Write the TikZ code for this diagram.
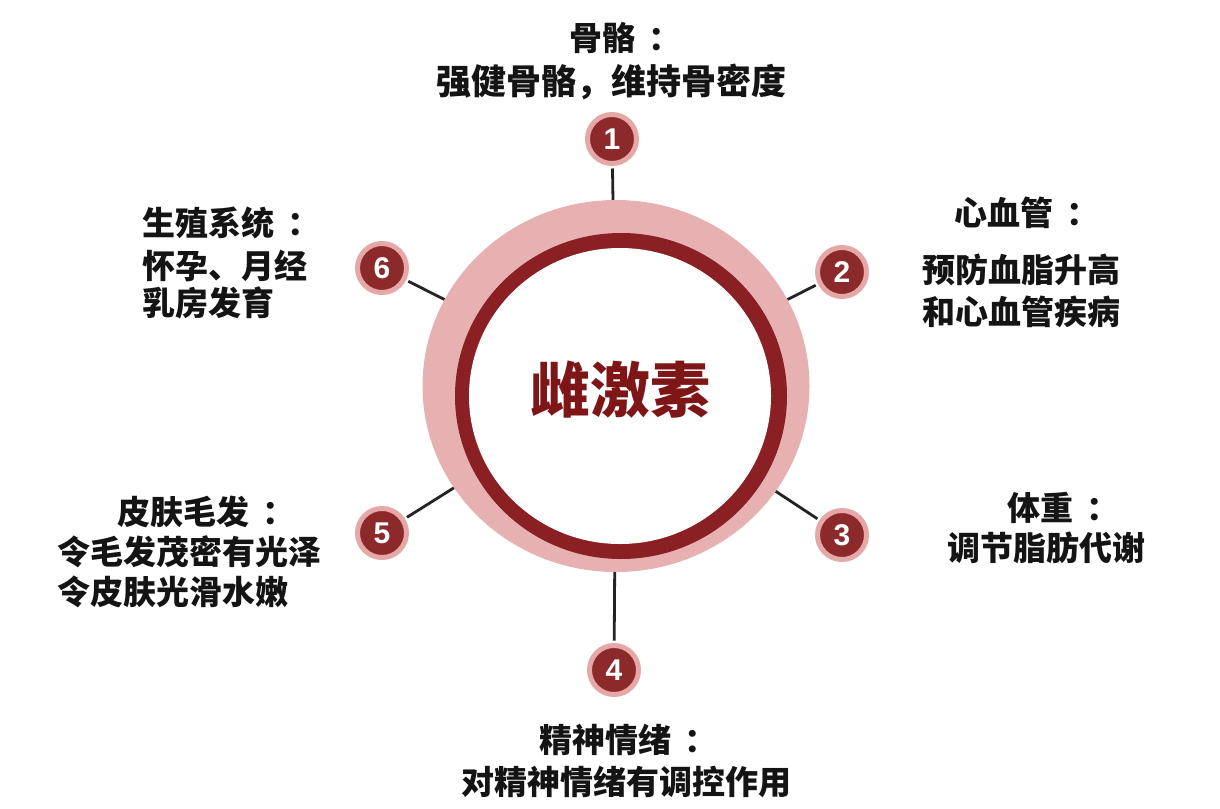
\documentclass[tikz,border=0pt]{standalone}
\usepackage{fontspec}
\usetikzlibrary{shapes.geometric}
\newfontfamily\cjk{Noto Sans CJK SC}
\newfontfamily\numfont{Liberation Sans}
\definecolor{ringpink}{HTML}{E8B1B1}
\definecolor{ringred}{HTML}{8A1F24}
\definecolor{badgered}{HTML}{8C2A2B}
\definecolor{badgepink}{HTML}{E6A7A7}
\definecolor{linegray}{HTML}{262222}
\definecolor{txt}{HTML}{141414}
\definecolor{titlered}{HTML}{7E1618}
\newcommand{\cc}{\kern0.4em：}
\tikzset{
  lbl/.style={anchor=west, inner sep=0pt, text=txt, font=\cjk\bfseries\fontsize{33}{40}\selectfont},
  lblbig/.style={lbl, font=\cjk\bfseries\fontsize{35}{42}\selectfont},
  badge/.style={circle, fill=badgered, draw=badgepink, line width=5pt, minimum size=49pt, inner sep=0pt, text=white, font=\numfont\bfseries\fontsize{30}{30}\selectfont},
  conn/.style={draw=linegray, line width=2.8pt, shorten <=2.5pt},
}
\begin{document}
\begin{tikzpicture}[x=1pt, y=-1pt]
\useasboundingbox (0,0) rectangle (1220,808);
\fill[white] (0,0) rectangle (1220,808);
% ring
\node[ellipse, fill=ringpink, minimum width=387pt, minimum height=372pt, inner sep=0pt] (ring) at (616,386) {};
\fill[ringred] (621,396) ellipse [x radius=166, y radius=163];
\fill[white] (620,396) ellipse [x radius=151, y radius=148];
\node[inner sep=0pt, text=titlered, font=\cjk\bfseries\fontsize{60}{60}\selectfont] (title) at (620,390) {雌激素};
% badges
\node[badge] (b1) at (612,139) {1};
\node[badge] (b2) at (842,272) {2};
\node[badge] (b3) at (842,535) {3};
\node[badge] (b4) at (614,670) {4};
\node[badge] (b5) at (382,533) {5};
\node[badge] (b6) at (382,268) {6};
% connectors
\draw[conn] (b1) -- (ring);
\draw[conn] (b2) -- (ring);
\draw[conn] (b3) -- (ring);
\draw[conn] (b4) -- (ring);
\draw[conn] (b5) -- (ring);
\draw[conn] (b6) -- (ring);
% labels
\node[lbl] (t1a) at (569,38) {骨骼\cc};
\node[lblbig] (t1b) at (436,82) {强健骨骼，维持骨密度};
\node[lbl] (t2a) at (954,213) {心血管\cc};
\node[lbl] (t2b) at (922,270) {预防血脂升高};
\node[lbl] (t2c) at (922,312) {和心血管疾病};
\node[lbl] (t3a) at (1007,508) {体重\cc};
\node[lbl] (t3b) at (947,548) {调节脂肪代谢};
\node[lbl] (t4a) at (539,740) {精神情绪\cc};
\node[lbl] (t4b) at (461,782) {对精神情绪有调控作用};
\node[lbl] (t5a) at (117,512) {皮肤毛发\cc};
\node[lbl] (t5b) at (57,552) {令毛发茂密有光泽};
\node[lbl] (t5c) at (57,592) {令皮肤光滑水嫩};
\node[lbl] (t6a) at (142,223) {生殖系统\cc};
\node[lbl] (t6b) at (142,266) {怀孕、月经};
\node[lbl] (t6c) at (142,303) {乳房发育};
\end{tikzpicture}
\end{document}
